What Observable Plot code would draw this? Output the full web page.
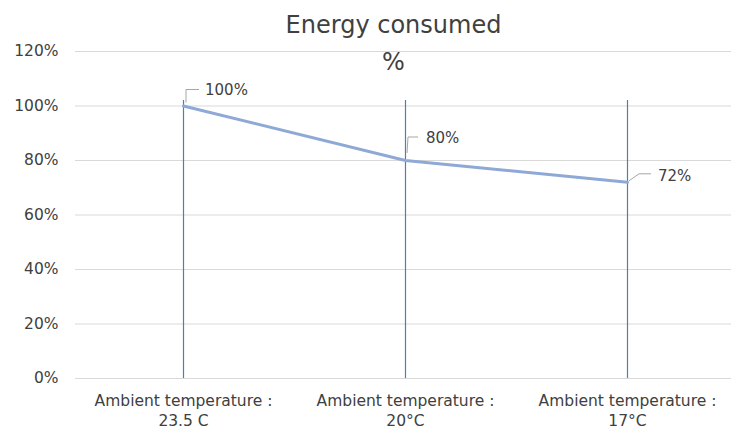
<!DOCTYPE html>
<html>
<head>
<meta charset="utf-8">
<script src="https://cdn.jsdelivr.net/npm/d3@7"></script>
<script src="https://cdn.jsdelivr.net/npm/@observablehq/plot@0.6"></script>
<style>
  html, body { margin: 0; padding: 0; background: #fff; }
  #chart svg { display: block; }
</style>
</head>
<body>
<div id="chart"></div>
<script>
// Share of energy consumed at each ambient temperature setpoint
const categories = ["Ambient temperature :\n23.5 C", "Ambient temperature :\n20°C", "Ambient temperature :\n17°C"];
const values = [1.00, 0.80, 0.72];
const valueLabels = ["100%", "80%", "72%"];
const yTicks = [0, 0.2, 0.4, 0.6, 0.8, 1.0, 1.2];
const titleLines = ["Energy consumed", "%"];

// Where each data label sits relative to its point, with its leader path (pixels)
const labelNudges = [
  {dx: 22, dy: -16, leader: [[3, -3], [3, -16], [16, -16]]},
  {dx: 21, dy: -22, leader: [[2, -7], [3, -23], [13, -23]]},
  {dx: 31, dy: -6, leader: [[2, -1], [12, -8], [24, -8]]}
];

const rows = categories.map((c, i) => ({category: c, value: values[i], label: valueLabels[i], nudge: labelNudges[i]}));

const font = "'DejaVu Sans', Verdana, sans-serif";
const textColor = "#404040";

// Data labels with short leader lines back to each point
function dataLabels(index, scales) {
  const g = d3.create("svg:g");
  for (const r of rows) {
    const px = scales.x(r.category), py = scales.y(r.value);
    g.append("path")
      .attr("fill", "none").attr("stroke", "#a6a6a6").attr("stroke-width", 1)
      .attr("d", d3.line()(r.nudge.leader.map(([a, b]) => [px + a, py + b])));
    g.append("text")
      .attr("x", px + r.nudge.dx).attr("y", py + r.nudge.dy)
      .attr("dy", "0.35em").attr("text-anchor", "start")
      .attr("font-family", font).attr("font-size", 15).attr("fill", textColor)
      .text(r.label);
  }
  return g.node();
}

const chart = Plot.plot({
  width: 731,
  height: 435,
  marginTop: 51,
  marginLeft: 75,
  marginRight: 0,
  marginBottom: 57,
  style: {fontFamily: font, background: "#fff", color: textColor},
  x: {type: "point", domain: categories, range: [72, 738], padding: 0.5, label: null},
  y: {domain: [0, 1.2], ticks: yTicks, label: null, tickFormat: d3.format(".0%")},
  marks: [
    Plot.gridY(yTicks, {stroke: "#d9d9d9", strokeOpacity: 1, strokeWidth: 1}),
    Plot.axisY(yTicks, {tickSize: 0, tickPadding: 17, fontSize: 15.5, fill: textColor, tickFormat: d3.format(".0%")}),
    Plot.axisX({tickSize: 0, tickPadding: 14, fontSize: 15.5, fill: textColor, lineHeight: 1.25, textAnchor: "middle"}),
    // vertical category lines rising a little above the 100% level
    Plot.ruleX(categories, {x: d => d, y1: 0, y2: 1.02, stroke: "#4a82ab", strokeWidth: 1.2}),
    Plot.line(rows, {x: "category", y: "value", stroke: "#8ea9d6", strokeWidth: 3}),
    dataLabels,
    Plot.text([titleLines[0]], {text: d => d, frameAnchor: "top", lineAnchor: "middle", dx: -10, dy: -26, fontSize: 24, fill: textColor}),
    Plot.text([titleLines[1]], {text: d => d, frameAnchor: "top", lineAnchor: "middle", dx: -10, dy: 11, fontSize: 24, fill: textColor})
  ]
});

document.getElementById("chart").appendChild(chart);
</script>
</body>
</html>
